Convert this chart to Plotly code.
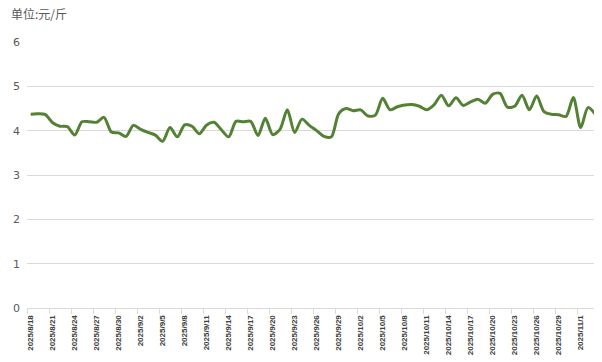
import datetime as dt
import plotly.graph_objects as go

start = dt.date(2025, 8, 18)
n_days = 78
dates = [start + dt.timedelta(days=i) for i in range(n_days)]
categories = [f"{d.year}/{d.month}/{d.day}" for d in dates]

prices = [
    4.37, 4.38, 4.36, 4.18, 4.10, 4.09, 3.90, 4.20, 4.20, 4.19,
    4.30, 3.97, 3.95, 3.87, 4.12, 4.03, 3.96, 3.90, 3.76, 4.07,
    3.86, 4.13, 4.10, 3.93, 4.13, 4.19, 4.02, 3.86, 4.21, 4.20,
    4.21, 3.89, 4.28, 3.91, 4.03, 4.47, 3.96, 4.26, 4.12, 4.00,
    3.87, 3.86, 4.38, 4.50, 4.45, 4.47, 4.33, 4.35, 4.73, 4.47,
    4.54, 4.58, 4.59, 4.55, 4.47, 4.58, 4.80, 4.56, 4.74, 4.57,
    4.65, 4.71, 4.62, 4.82, 4.84, 4.53, 4.55, 4.80, 4.47, 4.78,
    4.43, 4.37, 4.36, 4.32, 4.75, 4.07, 4.52, 4.37,
]

y_ticks = [0, 1, 2, 3, 4, 5, 6]

idx = list(range(n_days))
label_idx = idx[::3]
tick_labels = [categories[i] for i in label_idx]
boundary_ticks = [i - 0.5 for i in label_idx] + [n_days - 0.5]

fig = go.Figure()
fig.add_trace(go.Scatter(
    x=idx, y=prices, mode="lines",
    line=dict(color="#548235", width=3, shape="spline", smoothing=0.8),
    customdata=categories, hovertemplate="%{customdata}: %{y}<extra></extra>",
))

# page body has an 8px default margin, so the figure is sized to fit the window
fig.update_layout(
    width=594, height=354,
    margin=dict(l=19, r=3, t=34, b=54, autoexpand=False),
    paper_bgcolor="white", plot_bgcolor="white",
    showlegend=False,
    font=dict(family="Noto Sans CJK SC, DejaVu Sans, sans-serif", color="#595959"),
    title=dict(
        text="单位:元/斤", x=0.005, xref="container", xanchor="left",
        y=0.982, yref="container", yanchor="middle",
        font=dict(size=12, color="#595959"),
    ),
)
fig.update_xaxes(
    tickmode="array", tickvals=label_idx, ticktext=tick_labels,
    tickangle=-90, automargin=False,
    tickfont=dict(size=8, color="#404040", family="Liberation Sans, sans-serif",
                  weight="bold"),
    ticks="", ticklabelstandoff=3,
    minor=dict(tickmode="array", tickvals=boundary_ticks, ticks="outside",
               ticklen=5, tickcolor="#d9d9d9", showgrid=False),
    showgrid=False, showline=True, linecolor="#d9d9d9", linewidth=1,
    range=[-0.5, n_days - 0.5], zeroline=False,
)
fig.update_yaxes(
    range=[0, 6], tickvals=y_ticks, ticktext=[str(v) for v in y_ticks],
    showgrid=True, gridcolor="#d9d9d9", gridwidth=1, zeroline=False,
    showline=False, ticks="", ticklabelstandoff=6, automargin=False,
    tickfont=dict(size=11, color="#595959", family="DejaVu Sans, sans-serif"),
)

fig.write_html("out.html")
